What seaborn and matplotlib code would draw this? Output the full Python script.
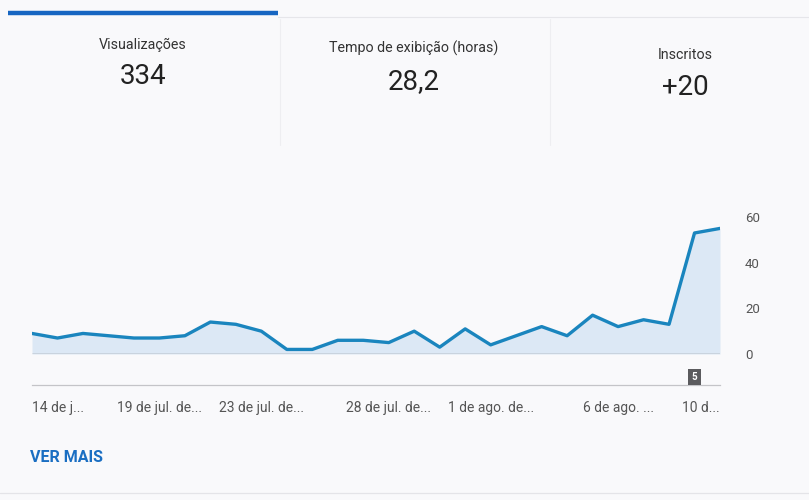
import matplotlib
matplotlib.use("Agg")
import matplotlib.pyplot as plt
import matplotlib.transforms as mtransforms
import seaborn as sns
import pandas as pd

# Daily views over the last 28 days (14 jul - 10 ago)
day_index = list(range(28))
views = [9, 7, 9, 8, 7, 7, 8, 14, 13, 10, 2, 2, 6, 6, 5,
         10, 3, 11, 4, 8, 12, 8, 17, 12, 15, 13, 53, 55]

tick_positions = [0, 5, 9, 14, 18, 23, 27]
tick_labels = ["14 de j...", "19 de jul. de...", "23 de jul. de...",
               "28 de jul. de...", "1 de ago. de...", "6 de ago. ...", "10 d..."]
y_ticks = [0, 20, 40, 60]

tab_titles = ["Visualizações", "Tempo de exibição (horas)", "Inscritos"]
tab_values = ["334", "28,2", "+20"]
published_day = 26
published_count = "5"

LINE = "#1a85be"
FILL = "#dce8f5"
BG = "#f9f9fb"

sns.set_theme(style="white")
plt.rcParams["font.family"] = ["Roboto", "DejaVu Sans"]

W, H = 809, 500
fig = plt.figure(figsize=(W / 100, H / 100), dpi=100, facecolor=BG)


def fx(px):
    return px / W


def fy(py):
    return 1 - py / H


# ---- metric tabs ----
fig.add_artist(plt.Line2D([fx(8), fx(278)], [fy(13), fy(13)], color="#1766c2",
                          lw=3.2, solid_capstyle="butt"))
fig.add_artist(plt.Line2D([fx(278), fx(809)], [fy(17), fy(17)], color="#e6e6ea", lw=0.8))
for xd in (280, 550):
    fig.add_artist(plt.Line2D([fx(xd), fx(xd)], [fy(19), fy(145)], color="#eeeef1", lw=0.8))

tab_x = [143, 414, 685]
title_y = [45, 48, 55]
value_y = [77, 82, 88]
for x, ty, vy, t, v in zip(tab_x, title_y, value_y, tab_titles, tab_values):
    fig.text(fx(x), fy(ty), t, ha="center", va="center", fontsize=10.3, color="#333333")
    fig.text(fx(x), fy(vy), v, ha="center", va="center", fontsize=20, color="#222222")

# ---- chart ----
left, right = 32, 720
zero_y, top_y = 354, 217
ax = fig.add_axes([fx(left), fy(zero_y), fx(right - left), (zero_y - top_y) / H])
ax.set_facecolor("none")

df = pd.DataFrame({"day": day_index, "views": views})
ax.fill_between(df["day"], 0, df["views"], color=FILL, lw=0, zorder=1)
ax.axhline(0, color="#7f7f84", lw=1.0, zorder=2)
sns.lineplot(data=df, x="day", y="views", ax=ax, color=LINE, lw=2.4, zorder=3)

ax.set_xlim(0, 27)
ax.set_ylim(0, 60)
ax.set_xlabel("")
ax.set_ylabel("")

ax.yaxis.tick_right()
ax.set_yticks(y_ticks)
ax.set_yticklabels([str(v) for v in y_ticks])
ax.tick_params(axis="y", length=0, pad=18, labelsize=9.5, labelcolor="#555555")

for side in ("top", "left", "right"):
    ax.spines[side].set_visible(False)
ax.spines["bottom"].set_position(("outward", 22))
ax.spines["bottom"].set_color("#c4c4c8")
ax.spines["bottom"].set_linewidth(0.9)

ax.set_xticks(tick_positions)
ax.set_xticklabels(tick_labels)
ax.tick_params(axis="x", length=0, pad=12, labelsize=10, labelcolor="#555555")
xt = ax.get_xticklabels()
xt[0].set_ha("left")
xt[-1].set_ha("right")

# published-video marker on the timeline
trans = mtransforms.blended_transform_factory(ax.transData, ax.transAxes)
ax.text(published_day, (zero_y - 377) / (zero_y - top_y), published_count,
        transform=trans, ha="center", va="center", fontsize=7, color="white",
        fontweight="bold", clip_on=False,
        bbox=dict(boxstyle="square,pad=0.35", fc="#5b5b5e", ec="none"))

# ---- footer ----
fig.text(fx(30), fy(458), "VER MAIS", ha="left", va="center", fontsize=11.5,
         fontweight="bold", color="#1a6ec2")
fig.add_artist(plt.Line2D([fx(0), fx(809)], [fy(493), fy(493)], color="#e4e4e8", lw=0.9))

fig.savefig("out.png", dpi=100, facecolor=BG)
